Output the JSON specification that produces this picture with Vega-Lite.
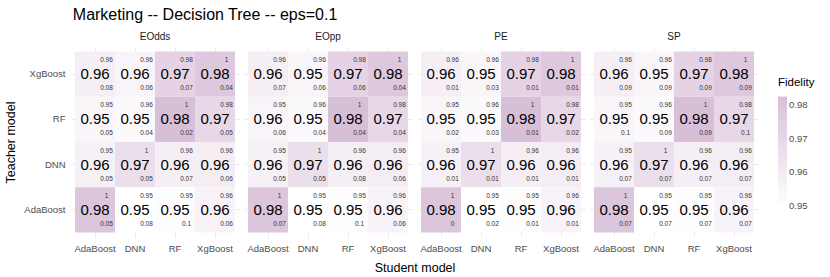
{
  "$schema": "https://vega.github.io/schema/vega-lite/v6.json",
  "padding": {"left": 4, "top": 7, "right": 4, "bottom": 0},
  "title": {"text": "Marketing -- Decision Tree -- eps=0.1", "anchor": "start", "fontSize": 16, "font": "Liberation Sans", "fontWeight": "normal", "color": "#000000", "offset": 9, "dx": 68},
  "data": {"values": [
    {"panel":"EOdds","teacher":"XgBoost","student":"AdaBoost","fidelity":0.958,"upper":0.96,"lower":0.08},
    {"panel":"EOdds","teacher":"XgBoost","student":"DNN","fidelity":0.9552,"upper":0.96,"lower":0.06},
    {"panel":"EOdds","teacher":"XgBoost","student":"RF","fidelity":0.972,"upper":0.98,"lower":0.07},
    {"panel":"EOdds","teacher":"XgBoost","student":"XgBoost","fidelity":0.978,"upper":1,"lower":0.04},
    {"panel":"EOdds","teacher":"RF","student":"AdaBoost","fidelity":0.9547,"upper":0.95,"lower":0.05},
    {"panel":"EOdds","teacher":"RF","student":"DNN","fidelity":0.953,"upper":0.96,"lower":0.04},
    {"panel":"EOdds","teacher":"RF","student":"RF","fidelity":0.9826,"upper":1,"lower":0.02},
    {"panel":"EOdds","teacher":"RF","student":"XgBoost","fidelity":0.970,"upper":0.98,"lower":0.05},
    {"panel":"EOdds","teacher":"DNN","student":"AdaBoost","fidelity":0.957,"upper":0.95,"lower":0.05},
    {"panel":"EOdds","teacher":"DNN","student":"DNN","fidelity":0.966,"upper":1,"lower":0.05},
    {"panel":"EOdds","teacher":"DNN","student":"RF","fidelity":0.958,"upper":0.96,"lower":0.07},
    {"panel":"EOdds","teacher":"DNN","student":"XgBoost","fidelity":0.959,"upper":0.96,"lower":0.06},
    {"panel":"EOdds","teacher":"AdaBoost","student":"AdaBoost","fidelity":0.979,"upper":1,"lower":0.05},
    {"panel":"EOdds","teacher":"AdaBoost","student":"DNN","fidelity":0.9498,"upper":0.95,"lower":0.08},
    {"panel":"EOdds","teacher":"AdaBoost","student":"RF","fidelity":0.951,"upper":0.95,"lower":0.1},
    {"panel":"EOdds","teacher":"AdaBoost","student":"XgBoost","fidelity":0.956,"upper":0.96,"lower":0.06},

    {"panel":"EOpp","teacher":"XgBoost","student":"AdaBoost","fidelity":0.958,"upper":0.96,"lower":0.07},
    {"panel":"EOpp","teacher":"XgBoost","student":"DNN","fidelity":0.9548,"upper":0.96,"lower":0.06},
    {"panel":"EOpp","teacher":"XgBoost","student":"RF","fidelity":0.972,"upper":0.98,"lower":0.06},
    {"panel":"EOpp","teacher":"XgBoost","student":"XgBoost","fidelity":0.978,"upper":1,"lower":0.04},
    {"panel":"EOpp","teacher":"RF","student":"AdaBoost","fidelity":0.9552,"upper":0.95,"lower":0.06},
    {"panel":"EOpp","teacher":"RF","student":"DNN","fidelity":0.953,"upper":0.96,"lower":0.04},
    {"panel":"EOpp","teacher":"RF","student":"RF","fidelity":0.9824,"upper":1,"lower":0.04},
    {"panel":"EOpp","teacher":"RF","student":"XgBoost","fidelity":0.970,"upper":0.98,"lower":0.04},
    {"panel":"EOpp","teacher":"DNN","student":"AdaBoost","fidelity":0.957,"upper":0.95,"lower":0.05},
    {"panel":"EOpp","teacher":"DNN","student":"DNN","fidelity":0.966,"upper":1,"lower":0.05},
    {"panel":"EOpp","teacher":"DNN","student":"RF","fidelity":0.958,"upper":0.96,"lower":0.08},
    {"panel":"EOpp","teacher":"DNN","student":"XgBoost","fidelity":0.959,"upper":0.96,"lower":0.06},
    {"panel":"EOpp","teacher":"AdaBoost","student":"AdaBoost","fidelity":0.979,"upper":1,"lower":0.07},
    {"panel":"EOpp","teacher":"AdaBoost","student":"DNN","fidelity":0.9498,"upper":0.95,"lower":0.08},
    {"panel":"EOpp","teacher":"AdaBoost","student":"RF","fidelity":0.951,"upper":0.95,"lower":0.1},
    {"panel":"EOpp","teacher":"AdaBoost","student":"XgBoost","fidelity":0.956,"upper":0.96,"lower":0.06},

    {"panel":"PE","teacher":"XgBoost","student":"AdaBoost","fidelity":0.958,"upper":0.96,"lower":0.01},
    {"panel":"PE","teacher":"XgBoost","student":"DNN","fidelity":0.9548,"upper":0.96,"lower":0.03},
    {"panel":"PE","teacher":"XgBoost","student":"RF","fidelity":0.972,"upper":0.98,"lower":0.01},
    {"panel":"PE","teacher":"XgBoost","student":"XgBoost","fidelity":0.978,"upper":1,"lower":0.01},
    {"panel":"PE","teacher":"RF","student":"AdaBoost","fidelity":0.9547,"upper":0.95,"lower":0.02},
    {"panel":"PE","teacher":"RF","student":"DNN","fidelity":0.953,"upper":0.96,"lower":0.03},
    {"panel":"PE","teacher":"RF","student":"RF","fidelity":0.9824,"upper":1,"lower":0.01},
    {"panel":"PE","teacher":"RF","student":"XgBoost","fidelity":0.970,"upper":0.98,"lower":0.02},
    {"panel":"PE","teacher":"DNN","student":"AdaBoost","fidelity":0.957,"upper":0.95,"lower":0.01},
    {"panel":"PE","teacher":"DNN","student":"DNN","fidelity":0.966,"upper":1,"lower":0.01},
    {"panel":"PE","teacher":"DNN","student":"RF","fidelity":0.958,"upper":0.96,"lower":0.01},
    {"panel":"PE","teacher":"DNN","student":"XgBoost","fidelity":0.959,"upper":0.96,"lower":0.01},
    {"panel":"PE","teacher":"AdaBoost","student":"AdaBoost","fidelity":0.979,"upper":1,"lower":0},
    {"panel":"PE","teacher":"AdaBoost","student":"DNN","fidelity":0.9498,"upper":0.95,"lower":0.02},
    {"panel":"PE","teacher":"AdaBoost","student":"RF","fidelity":0.951,"upper":0.95,"lower":0.01},
    {"panel":"PE","teacher":"AdaBoost","student":"XgBoost","fidelity":0.956,"upper":0.96,"lower":0.01},

    {"panel":"SP","teacher":"XgBoost","student":"AdaBoost","fidelity":0.958,"upper":0.96,"lower":0.09},
    {"panel":"SP","teacher":"XgBoost","student":"DNN","fidelity":0.9548,"upper":0.96,"lower":0.09},
    {"panel":"SP","teacher":"XgBoost","student":"RF","fidelity":0.972,"upper":0.98,"lower":0.09},
    {"panel":"SP","teacher":"XgBoost","student":"XgBoost","fidelity":0.978,"upper":1,"lower":0.09},
    {"panel":"SP","teacher":"RF","student":"AdaBoost","fidelity":0.9547,"upper":0.95,"lower":0.1},
    {"panel":"SP","teacher":"RF","student":"DNN","fidelity":0.953,"upper":0.96,"lower":0.09},
    {"panel":"SP","teacher":"RF","student":"RF","fidelity":0.9824,"upper":1,"lower":0.09},
    {"panel":"SP","teacher":"RF","student":"XgBoost","fidelity":0.970,"upper":0.98,"lower":0.1},
    {"panel":"SP","teacher":"DNN","student":"AdaBoost","fidelity":0.957,"upper":0.95,"lower":0.07},
    {"panel":"SP","teacher":"DNN","student":"DNN","fidelity":0.966,"upper":1,"lower":0.07},
    {"panel":"SP","teacher":"DNN","student":"RF","fidelity":0.958,"upper":0.96,"lower":0.07},
    {"panel":"SP","teacher":"DNN","student":"XgBoost","fidelity":0.959,"upper":0.96,"lower":0.07},
    {"panel":"SP","teacher":"AdaBoost","student":"AdaBoost","fidelity":0.979,"upper":1,"lower":0.07},
    {"panel":"SP","teacher":"AdaBoost","student":"DNN","fidelity":0.9498,"upper":0.95,"lower":0.07},
    {"panel":"SP","teacher":"AdaBoost","student":"RF","fidelity":0.951,"upper":0.95,"lower":0.07},
    {"panel":"SP","teacher":"AdaBoost","student":"XgBoost","fidelity":0.956,"upper":0.96,"lower":0.07}
  ]},
  "facet": {
    "column": {
      "field": "panel", "type": "nominal", "sort": ["EOdds", "EOpp", "PE", "SP"],
      "title": "Student model",
      "header": {
        "labelOrient": "top", "titleOrient": "bottom",
        "labelFontSize": 10, "labelFont": "Liberation Sans", "labelColor": "#1a1a1a", "labelPadding": 5,
        "titleFontSize": 12.5, "titleFont": "Liberation Sans", "titleFontWeight": "normal", "titleColor": "#000000", "titlePadding": -1
      }
    }
  },
  "spacing": 5,
  "spec": {
    "width": 168,
    "height": 190,
    "encoding": {
      "x": {"field": "student", "type": "nominal", "sort": ["AdaBoost", "DNN", "RF", "XgBoost"],
        "scale": {"paddingInner": 0, "paddingOuter": 0.1},
        "axis": {"title": null, "domain": false, "ticks": false, "grid": true, "zindex": 0, "bandPosition": 0.5, "gridColor": "#ebebeb", "labelAngle": 0, "labelPadding": 6, "labelFontSize": 9.5, "labelColor": "#4d4d4d", "labelFont": "Liberation Sans"}},
      "y": {"field": "teacher", "type": "nominal", "sort": ["XgBoost", "RF", "DNN", "AdaBoost"],
        "scale": {"paddingInner": 0, "paddingOuter": 0.1},
        "axis": {"title": "Teacher model", "domain": false, "ticks": false, "grid": true, "zindex": 0, "bandPosition": 0.5, "gridColor": "#ebebeb", "labelPadding": 6, "labelFontSize": 9.5, "labelColor": "#4d4d4d", "labelFont": "Liberation Sans", "titleFont": "Liberation Sans", "titleFontSize": 12.5, "titleFontWeight": "normal", "titleColor": "#000000", "titlePadding": 6}}
    },
    "layer": [
      {"mark": {"type": "rect"},
       "encoding": {"color": {"field": "fidelity", "type": "quantitative", "title": "Fidelity",
         "scale": {"range": ["#ffffff", "#d8bfd8"], "interpolate": "lab", "zero": false},
         "legend": {"orient": "none", "legendX": 707, "legendY": 30, "gradientLength": 110, "gradientThickness": 9, "values": [0.95, 0.96, 0.97, 0.98], "format": ".2f", "titleFontSize": 11.5, "titleFont": "Liberation Sans", "titleFontWeight": "normal", "titleColor": "#000000", "labelFontSize": 9.5, "labelColor": "#4d4d4d", "labelFont": "Liberation Sans", "gradientStrokeWidth": 0, "tickCount": 4, "titlePadding": 8}}}},
      {"mark": {"type": "text", "fontSize": 15, "font": "Liberation Sans", "color": "#000000"},
       "encoding": {"text": {"field": "fidelity", "type": "quantitative", "format": ".2f"}}},
      {"mark": {"type": "text", "fontSize": 6.5, "font": "Liberation Sans", "color": "#333333", "dx": 11.5, "dy": -14},
       "encoding": {"text": {"field": "upper", "type": "quantitative"}}},
      {"mark": {"type": "text", "fontSize": 6.5, "font": "Liberation Sans", "color": "#333333", "dx": 11.5, "dy": 14},
       "encoding": {"text": {"field": "lower", "type": "quantitative"}}}
    ]
  },
  "config": {
    "view": {"stroke": null},
    "font": "Liberation Sans"
  }
}
